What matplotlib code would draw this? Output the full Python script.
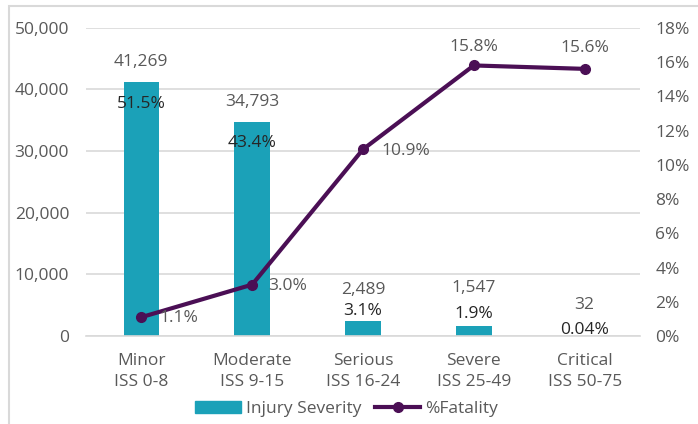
import matplotlib.pyplot as plt
from matplotlib.patches import Rectangle
from matplotlib.lines import Line2D
from matplotlib.ticker import FuncFormatter

plt.rcParams['font.family'] = ['Open Sans', 'DejaVu Sans']

# Data
categories = ["Minor\nISS 0-8", "Moderate\nISS 9-15", "Serious\nISS 16-24",
              "Severe\nISS 25-49", "Critical\nISS 50-75"]
injuries = [41269, 34793, 2489, 1547, 32]
share_labels = ["51.5%", "43.4%", "3.1%", "1.9%", "0.04%"]
fatality = [1.1, 3.0, 10.9, 15.8, 15.6]

bar_color = "#1ba1b8"
line_color = "#4b0f55"
grid_color = "#d9d9d9"
text_color = "#595959"
fs = 12.5

fig = plt.figure(figsize=(6.98, 4.24), dpi=100)
ax = fig.add_axes([0.123, 0.2075, 0.794, 0.727])
ax2 = ax.twinx()

x = list(range(len(categories)))
ax.bar(x, injuries, width=0.32, color=bar_color, zorder=2)
ax.set_xlim(-0.5, len(categories) - 0.5)
ax.set_ylim(0, 50000)
ax.set_yticks(range(0, 50001, 10000))
ax.yaxis.set_major_formatter(FuncFormatter(lambda v, p: f"{int(v):,}"))
ax.grid(axis="y", color=grid_color, linewidth=1.2, zorder=0)
ax.set_axisbelow(True)
ax.set_xticks(x)
ax.set_xticklabels(categories, linespacing=1.45)

ax2.plot(x, fatality, color=line_color, linewidth=3, marker="o", markersize=7, zorder=3)
ax2.set_ylim(0, 18)
ax2.set_yticks(range(0, 19, 2))
ax2.yaxis.set_major_formatter(FuncFormatter(lambda v, p: f"{int(v)}%"))

for a in (ax, ax2):
    for s in a.spines.values():
        s.set_visible(False)
    a.tick_params(length=0, labelsize=fs, colors=text_color)
ax.spines["bottom"].set_visible(True)
ax.spines["bottom"].set_color(grid_color)
ax.spines["bottom"].set_linewidth(1.2)
ax.tick_params(axis="y", pad=12)
ax.tick_params(axis="x", pad=12)
ax2.tick_params(axis="y", pad=11)

# value labels above bars, share labels in / above bars
value_offsets = [20, 20, 31, 38, 31]
share_offsets = [-22, -21, 10, 12, 6]
for i, v in enumerate(injuries):
    ax.annotate(f"{v:,}", (i, v), xytext=(0, value_offsets[i]), textcoords="offset pixels",
                ha="center", va="center", fontsize=fs, color=text_color)
    ax.annotate(share_labels[i], (i, v), xytext=(0, share_offsets[i]), textcoords="offset pixels",
                ha="center", va="center", fontsize=fs, color="#262626", zorder=5)

# fatality labels
fat_offsets = [(18, -1), (16, -1), (18, -2), (0, 18), (0, 21)]
fat_ha = ["left", "left", "left", "center", "center"]
for i, f in enumerate(fatality):
    ax2.annotate(f"{f:.1f}%", (i, f), xytext=fat_offsets[i], textcoords="offset pixels",
                 ha=fat_ha[i], va="center", fontsize=fs, color=text_color)

handles = [Rectangle((0, 0), 1, 1, color=bar_color),
           Line2D([], [], color=line_color, linewidth=3, marker="o", markersize=7)]
fig.legend(handles, ["Injury Severity", "%Fatality"], loc="center", bbox_to_anchor=(0.497, 0.035),
           ncol=2, frameon=False, fontsize=fs, labelcolor=text_color, handlelength=2.6,
           handletextpad=0.3, columnspacing=0.8)

# outer border
fig.patches.append(Rectangle((9 / 698, -0.1), 1.1, 1 - 6 / 424 + 0.1, transform=fig.transFigure,
                             fill=False, edgecolor=grid_color, linewidth=1.5))

fig.savefig("out.png", dpi=100)
